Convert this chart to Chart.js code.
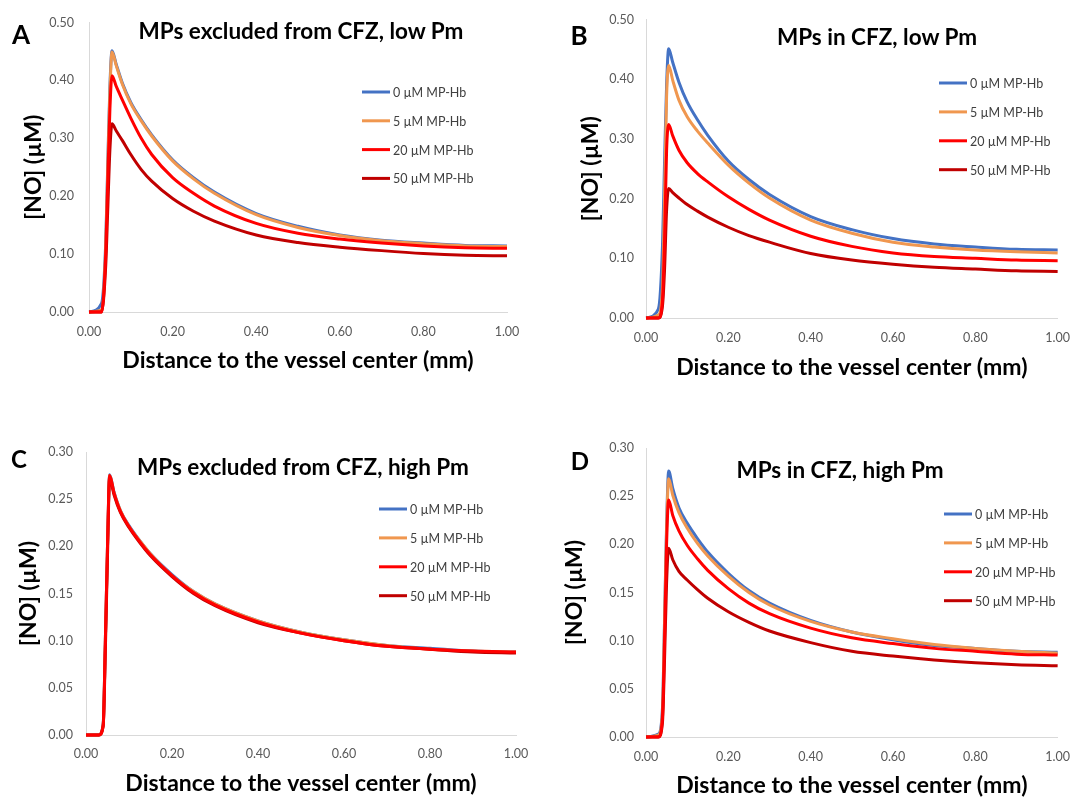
<!DOCTYPE html>
<html>
<head>
<meta charset="utf-8">
<script src="https://cdn.jsdelivr.net/npm/chart.js@4.4.0/dist/chart.umd.min.js"></script>
<style>
  body { margin: 0; background: #fff; width: 1082px; height: 801px; position: relative; overflow: hidden; font-family: Lato, "Liberation Sans", sans-serif; }
  canvas { position: absolute; }
  .lbl { position: absolute; transform: translate(-50%, -50%); line-height: 1; font-weight: bold; color: #000; white-space: nowrap; }
  .title { font-size: 22.5px; }
  .letter { font-size: 26px; }
</style>
</head>
<body>
<canvas id="chartA" width="541" height="400" style="left:0;top:0"></canvas>
<canvas id="chartB" width="541" height="400" style="left:541px;top:0"></canvas>
<canvas id="chartC" width="541" height="400" style="left:0;top:400px"></canvas>
<canvas id="chartD" width="541" height="400" style="left:541px;top:400px"></canvas>

<div class="lbl letter" style="left:21px;top:34px">A</div>
<div class="lbl title" style="left:301px;top:31px">MPs excluded from CFZ, low Pm</div>
<div class="lbl letter" style="left:579px;top:35px">B</div>
<div class="lbl title" style="left:877px;top:37px">MPs in CFZ, low Pm</div>
<div class="lbl letter" style="left:19px;top:459px;font-size:24px">C</div>
<div class="lbl title" style="left:303px;top:467px">MPs excluded from CFZ, high Pm</div>
<div class="lbl letter" style="left:580px;top:461px;font-size:24px">D</div>
<div class="lbl title" style="left:840px;top:470px">MPs in CFZ, high Pm</div>

<script>
// distance to the vessel center (mm)
const distance = [0, 0.03, 0.04, 0.045, 0.05, 0.055, 0.065, 0.08, 0.1, 0.125, 0.15, 0.2, 0.25, 0.3, 0.4, 0.5, 0.6, 0.7, 0.8, 0.9, 1.0];
const seriesLabels = ["0 µM MP-Hb", "5 µM MP-Hb", "20 µM MP-Hb", "50 µM MP-Hb"];
const seriesColors = ["#4472C4", "#F0974F", "#FF0000", "#C00000"];

const xTicks = [0, 0.2, 0.4, 0.6, 0.8, 1.0];
const yTicksLow = [0, 0.1, 0.2, 0.3, 0.4, 0.5];
const yTicksHigh = [0, 0.05, 0.1, 0.15, 0.2, 0.25, 0.3];

// A: MPs excluded from CFZ, low Pm
const a0 = [0, 0.015, 0.12, 0.26, 0.39, 0.451, 0.428, 0.395, 0.362, 0.332, 0.306, 0.263, 0.232, 0.207, 0.170, 0.148, 0.133, 0.124, 0.119, 0.115, 0.114];
const a5 = [0, 0.004, 0.11, 0.25, 0.38, 0.449, 0.426, 0.393, 0.360, 0.330, 0.304, 0.261, 0.230, 0.205, 0.168, 0.146, 0.132, 0.123, 0.118, 0.114, 0.113];
const a20 = [0, 0, 0.10, 0.23, 0.35, 0.408, 0.390, 0.366, 0.335, 0.300, 0.272, 0.232, 0.205, 0.183, 0.153, 0.136, 0.126, 0.119, 0.114, 0.111, 0.110];
const a50 = [0, 0, 0.08, 0.18, 0.28, 0.325, 0.313, 0.296, 0.272, 0.246, 0.226, 0.196, 0.174, 0.157, 0.133, 0.120, 0.112, 0.106, 0.101, 0.098, 0.097];

// B: MPs in CFZ, low Pm
const b0 = [0, 0.015, 0.12, 0.26, 0.39, 0.451, 0.428, 0.395, 0.362, 0.332, 0.306, 0.263, 0.232, 0.207, 0.170, 0.148, 0.133, 0.124, 0.119, 0.115, 0.114];
const b5 = [0, 0.005, 0.05, 0.20, 0.37, 0.423, 0.398, 0.365, 0.337, 0.313, 0.293, 0.256, 0.226, 0.201, 0.164, 0.142, 0.127, 0.119, 0.114, 0.111, 0.109];
const b20 = [0, 0, 0.03, 0.13, 0.28, 0.324, 0.305, 0.281, 0.260, 0.242, 0.228, 0.203, 0.182, 0.164, 0.137, 0.120, 0.109, 0.103, 0.100, 0.097, 0.096];
const b50 = [0, 0, 0.02, 0.08, 0.18, 0.217, 0.210, 0.201, 0.190, 0.179, 0.169, 0.152, 0.138, 0.127, 0.108, 0.097, 0.090, 0.085, 0.082, 0.079, 0.078];

// C: MPs excluded from CFZ, high Pm
const c0 = [0, 0, 0.012, 0.10, 0.20, 0.276, 0.258, 0.238, 0.222, 0.206, 0.192, 0.170, 0.152, 0.139, 0.121, 0.109, 0.101, 0.095, 0.092, 0.089, 0.088];
const c5 = [0, 0, 0.011, 0.10, 0.20, 0.275, 0.257, 0.238, 0.221, 0.206, 0.192, 0.169, 0.152, 0.139, 0.121, 0.109, 0.101, 0.095, 0.091, 0.089, 0.088];
const c20 = [0, 0, 0.010, 0.10, 0.20, 0.275, 0.257, 0.237, 0.221, 0.205, 0.191, 0.169, 0.151, 0.138, 0.120, 0.108, 0.100, 0.094, 0.091, 0.089, 0.088];
const c50 = [0, 0, 0.010, 0.09, 0.19, 0.273, 0.255, 0.236, 0.220, 0.204, 0.190, 0.168, 0.150, 0.137, 0.119, 0.108, 0.100, 0.094, 0.091, 0.088, 0.087];

// D: MPs in CFZ, high Pm
const d0 = [0, 0.003, 0.03, 0.12, 0.22, 0.276, 0.258, 0.238, 0.222, 0.206, 0.192, 0.170, 0.152, 0.139, 0.121, 0.109, 0.101, 0.095, 0.092, 0.089, 0.088];
const d5 = [0, 0.002, 0.025, 0.115, 0.215, 0.268, 0.251, 0.233, 0.217, 0.201, 0.188, 0.167, 0.150, 0.137, 0.120, 0.109, 0.102, 0.096, 0.092, 0.089, 0.087];
const d20 = [0, 0, 0.02, 0.10, 0.20, 0.246, 0.230, 0.214, 0.199, 0.185, 0.173, 0.154, 0.139, 0.128, 0.113, 0.103, 0.097, 0.092, 0.089, 0.086, 0.085];
const d50 = [0, 0, 0.015, 0.08, 0.16, 0.196, 0.184, 0.172, 0.163, 0.153, 0.144, 0.130, 0.119, 0.110, 0.098, 0.089, 0.084, 0.080, 0.077, 0.075, 0.074];

// excel-style legend drawn inside the plot
const legendBox = {
  id: "legendBox",
  afterDatasetsDraw(chart, args, opts) {
    const ctx = chart.ctx;
    ctx.save();
    ctx.font = "12.5px Lato";
    ctx.textBaseline = "middle";
    chart.data.datasets.forEach((ds, i) => {
      const y = opts.y + i * opts.gap;
      ctx.strokeStyle = ds.borderColor;
      ctx.lineWidth = 3;
      ctx.beginPath();
      ctx.moveTo(opts.x, y);
      ctx.lineTo(opts.x + 28, y);
      ctx.stroke();
      ctx.fillStyle = "#404040";
      ctx.fillText(ds.label, opts.x + 31, y + 1);
    });
    ctx.restore();
  },
};

const drawOrder = [3, 2, 0, 1];

const makePanel = (id, series, yTicks, box) => {
  const ctx = document.getElementById(id);
  new Chart(ctx, {
    type: "line",
    data: {
      datasets: series.map((vals, i) => ({
        label: seriesLabels[i],
        data: distance.map((d, j) => ({ x: d, y: vals[j] })),
        borderColor: seriesColors[i],
        borderWidth: 3,
        pointRadius: 0,
        cubicInterpolationMode: "monotone",
        order: drawOrder[i],
        clip: 5,
      })),
    },
    options: {
      responsive: false,
      animation: false,
      layout: {
        padding: { left: 0, top: box.top, right: 541 - box.right, bottom: 0 },
      },
      plugins: {
        legend: { display: false },
        tooltip: { enabled: false },
        legendBox: box.legend,
      },
      scales: {
        x: {
          type: "linear",
          min: 0,
          max: 1,
          afterBuildTicks: (scale) => {
            scale.ticks = xTicks.map((v) => ({ value: v }));
          },
          afterFit: (scale) => {
            scale.height = 400 - box.bottom;
          },
          grid: { display: false, drawTicks: false },
          border: { display: true, color: "#D9D9D9", width: 1 },
          ticks: {
            padding: box.xTickPad,
            color: "#595959",
            font: { family: "Lato", size: 12.5 },
            callback: (v) => v.toFixed(2),
          },
          title: {
            display: true,
            text: "Distance to the vessel center (mm)",
            color: "#000",
            font: { family: "Lato", size: 23, weight: "bold" },
            padding: { top: 0, bottom: box.xTitlePad },
          },
        },
        y: {
          min: 0,
          max: yTicks[yTicks.length - 1],
          afterBuildTicks: (scale) => {
            scale.ticks = yTicks.map((v) => ({ value: v }));
          },
          afterFit: (scale) => {
            scale.width = box.left;
          },
          grid: { display: false, drawTicks: false },
          border: { display: true, color: "#D9D9D9", width: 1 },
          ticks: {
            padding: box.yTickPad,
            color: "#595959",
            font: { family: "Lato", size: 12.5 },
            callback: (v) => v.toFixed(2),
          },
          title: {
            display: true,
            text: "[NO] (µM)",
            color: "#000",
            font: { family: "Lato", size: 23, weight: "bold" },
            padding: { top: box.yTitlePad, bottom: 0 },
          },
        },
      },
    },
    plugins: [legendBox],
  });
};

makePanel("chartA", [a0, a5, a20, a50], yTicksLow, {
  left: 89, right: 507, top: 12, bottom: 312,
  xTickPad: 12, xTitlePad: 26, yTickPad: 15, yTitlePad: 20,
  legend: { x: 362, y: 92, gap: 28.8 },
});
makePanel("chartB", [b0, b5, b20, b50], yTicksLow, {
  left: 105, right: 519, top: 15, bottom: 318,
  xTickPad: 12, xTitlePad: 19, yTickPad: 12, yTitlePad: 36,
  legend: { x: 398, y: 83, gap: 28.9 },
});
makePanel("chartC", [c0, c5, c20, c50], yTicksHigh, {
  left: 86, right: 516, top: 52, bottom: 335,
  xTickPad: 11, xTitlePad: 3, yTickPad: 13, yTitlePad: 15,
  legend: { x: 379, y: 109, gap: 28.9 },
});
makePanel("chartD", [d0, d5, d20, d50], yTicksHigh, {
  left: 105, right: 526, top: 48, bottom: 337,
  xTickPad: 12, xTitlePad: 1, yTickPad: 12, yTitlePad: 20,
  legend: { x: 403, y: 114, gap: 28.9 },
});
</script>
</body>
</html>
